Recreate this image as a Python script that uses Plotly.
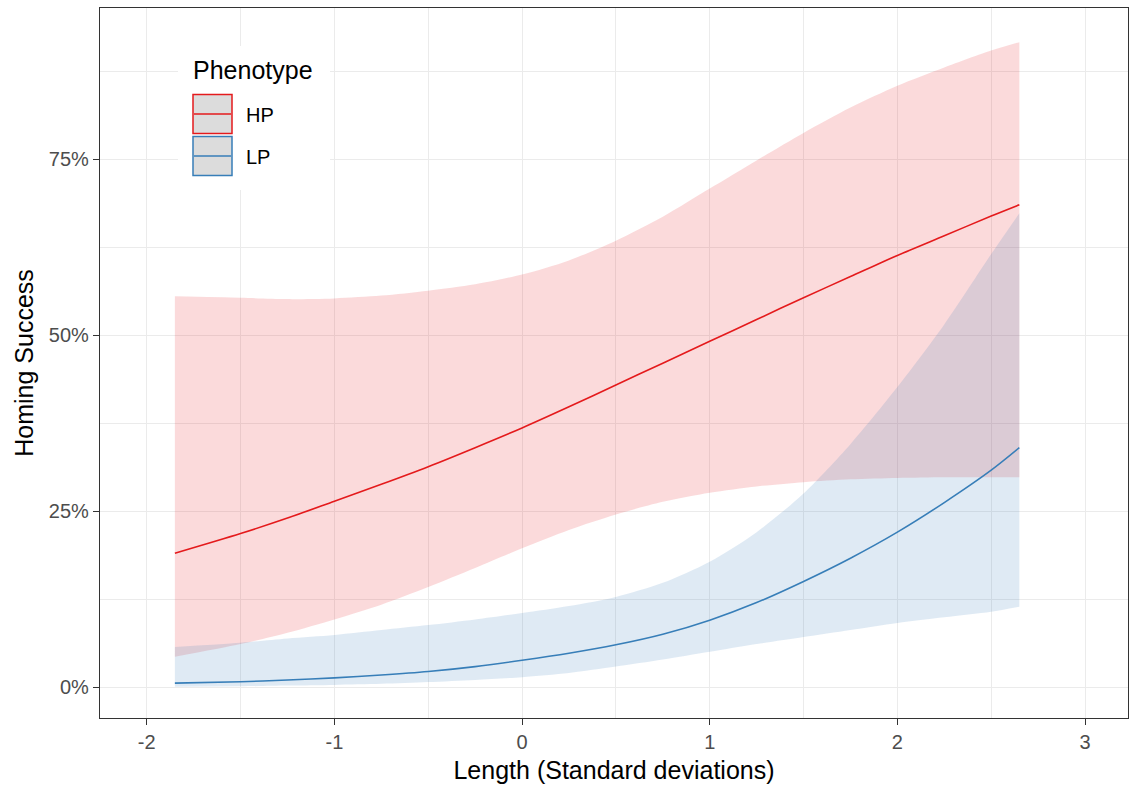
import plotly.graph_objects as go

# Standardised length (SD units) at which predictions are tabulated
length_sd = [-1.85, -1.5, -1.25, -1.0, -0.75, -0.5, -0.25, 0.0, 0.25, 0.5,
             0.75, 1.0, 1.25, 1.5, 1.75, 2.0, 2.25, 2.5, 2.65]

# HP phenotype: predicted homing success (%) and 95% interval
hp_fit = [19.0, 21.8, 24.0, 26.4, 28.8, 31.3, 34.0, 36.8, 39.8, 42.9,
          46.0, 49.1, 52.2, 55.3, 58.3, 61.3, 64.1, 66.9, 68.5]
hp_upper = [55.5, 55.3, 55.1, 55.2, 55.6, 56.3, 57.2, 58.6, 60.6, 63.4,
            66.8, 70.8, 74.8, 78.7, 82.3, 85.4, 88.0, 90.4, 91.6]
hp_lower = [4.3, 6.1, 7.7, 9.6, 11.7, 14.2, 16.9, 19.7, 22.3, 24.5,
            26.3, 27.6, 28.5, 29.1, 29.5, 29.7, 29.8, 29.8, 29.8]

# LP phenotype: predicted homing success (%) and 95% interval
lp_fit = [0.55, 0.75, 1.0, 1.3, 1.7, 2.2, 2.9, 3.8, 4.8, 6.0,
          7.5, 9.5, 12.0, 15.0, 18.3, 22.0, 26.2, 30.8, 34.0]
lp_upper = [5.7, 6.3, 6.9, 7.4, 8.1, 8.8, 9.6, 10.5, 11.5, 12.8,
            14.8, 17.8, 22.0, 27.5, 34.5, 42.6, 51.5, 61.5, 67.3]
lp_lower = [0.05, 0.1, 0.2, 0.3, 0.45, 0.7, 1.0, 1.4, 2.0, 2.9,
            3.9, 5.0, 6.1, 7.1, 8.1, 9.1, 9.9, 10.7, 11.4]

phenotypes = ["HP", "LP"]
colours = {"HP": "#E41A1C", "LP": "#377EB8"}
ribbons = {"HP": "rgba(228,26,28,0.16)", "LP": "rgba(55,126,184,0.16)"}

y_ticks = [0, 0.25, 0.5, 0.75]
y_tick_text = ["0%", "25%", "50%", "75%"]
x_ticks = [-2, -1, 0, 1, 2, 3]


def frac(values):
    return [v / 100 for v in values]


series = {
    "HP": (hp_fit, hp_lower, hp_upper),
    "LP": (lp_fit, lp_lower, lp_upper),
}

fig = go.Figure()

# confidence ribbons
for ph in phenotypes:
    fit, lo, hi = series[ph]
    fig.add_trace(go.Scatter(x=length_sd, y=frac(lo), mode="lines",
                             line=dict(width=0, shape="spline", smoothing=0.8),
                             hoverinfo="skip", showlegend=False))
    fig.add_trace(go.Scatter(x=length_sd, y=frac(hi), mode="lines",
                             line=dict(width=0, shape="spline", smoothing=0.8),
                             fill="tonexty", fillcolor=ribbons[ph],
                             hoverinfo="skip", showlegend=False))

# fitted curves
for ph in phenotypes:
    fit, lo, hi = series[ph]
    fig.add_trace(go.Scatter(x=length_sd, y=frac(fit), mode="lines",
                             line=dict(color=colours[ph], width=1.6,
                                       shape="spline", smoothing=0.8),
                             name=ph, showlegend=False))

# ---- layout: panel is 100..1128 px wide, 8..718 px tall ----
W, H = 1136, 793
L, R, T, B = 100, 8, 8, 75
pw, ph_ = W - L - R, H - T - B


def px(xp):
    return (xp - L) / pw


def py(yp):
    return (H - B - yp) / ph_


grid = "#EBEBEB"
axis_common = dict(
    showline=True, linecolor="#333333", linewidth=1.2, mirror=True,
    ticks="outside", ticklen=6, tickcolor="#333333", tickwidth=1.2,
    tickfont=dict(family="Liberation Sans, Arial", size=20, color="#4D4D4D"),
    showgrid=True, gridcolor=grid, gridwidth=1.2, zeroline=False,
)

fig.update_xaxes(
    range=[-2.249, 3.229], tickvals=x_ticks, ticktext=[str(v) for v in x_ticks],
    minor=dict(dtick=0.5, tick0=0, showgrid=True, gridcolor=grid, gridwidth=0.6, ticks=""),
    title=dict(text="Length (Standard deviations)", standoff=9,
               font=dict(family="Liberation Sans, Arial", size=25, color="black")),
    **axis_common,
)
fig.update_yaxes(
    range=[-0.044, 0.9645], tickvals=y_ticks, ticktext=y_tick_text,
    minor=dict(dtick=0.125, tick0=0, showgrid=True, gridcolor=grid, gridwidth=0.6, ticks=""),
    title=dict(text="Homing Success", standoff=8,
               font=dict(family="Liberation Sans, Arial", size=25, color="black")),
    **axis_common,
)

# ---- legend drawn in the panel's upper-left corner ----
shapes = [
    dict(type="rect", xref="paper", yref="paper",
         x0=px(178), x1=px(330), y0=py(190), y1=py(46),
         fillcolor="white", line=dict(width=0), layer="above"),
]
annotations = [
    dict(text="Phenotype", xref="paper", yref="paper", x=px(191), y=py(70),
         xanchor="left", yanchor="middle", showarrow=False,
         font=dict(family="Liberation Sans, Arial", size=25, color="black")),
]
key_tops = {"HP": 94.5, "LP": 136.5}
for ph in phenotypes:
    top = key_tops[ph]
    shapes.append(dict(type="rect", xref="paper", yref="paper",
                       x0=px(193), x1=px(232), y0=py(top + 39), y1=py(top),
                       fillcolor="#DCDCDC", line=dict(color=colours[ph], width=1.5),
                       layer="above"))
    shapes.append(dict(type="line", xref="paper", yref="paper",
                       x0=px(194), x1=px(231), y0=py(top + 19.5), y1=py(top + 19.5),
                       line=dict(color=colours[ph], width=1.6), layer="above"))
    annotations.append(dict(text=ph, xref="paper", yref="paper", x=px(244),
                            y=py(top + 20), xanchor="left", yanchor="middle",
                            showarrow=False,
                            font=dict(family="Liberation Sans, Arial", size=20,
                                      color="black")))

fig.update_layout(
    width=W, height=H,
    margin=dict(l=L, r=R, t=T, b=B),
    paper_bgcolor="white", plot_bgcolor="white",
    shapes=shapes, annotations=annotations,
    showlegend=False,
)

fig.write_html("out.html")
